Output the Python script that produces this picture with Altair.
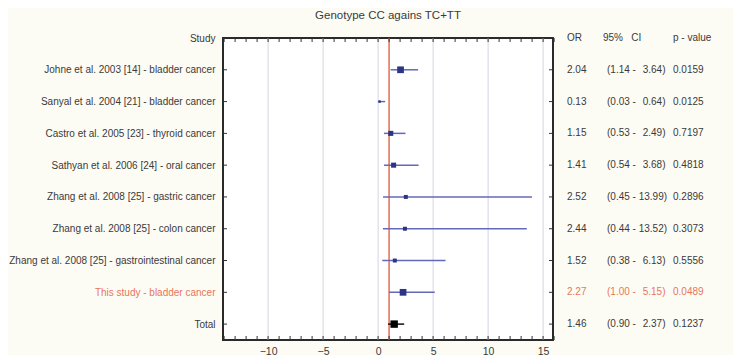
import altair as alt
import pandas as pd

studies = [
    "Johne et al. 2003 [14] - bladder cancer",
    "Sanyal et al. 2004 [21] - bladder cancer",
    "Castro et al. 2005 [23] - thyroid cancer",
    "Sathyan et al. 2006 [24] - oral cancer",
    "Zhang et al. 2008 [25] - gastric cancer",
    "Zhang et al. 2008 [25] - colon cancer",
    "Zhang et al. 2008 [25] - gastrointestinal cancer",
    "This study - bladder cancer",
    "Total",
]
odds = [2.04, 0.13, 1.15, 1.41, 2.52, 2.44, 1.52, 2.27, 1.46]
ci_low = [1.14, 0.03, 0.53, 0.54, 0.45, 0.44, 0.38, 1.00, 0.90]
ci_high = [3.64, 0.64, 2.49, 3.68, 13.99, 13.52, 6.13, 5.15, 2.37]
p_values = ["0.0159", "0.0125", "0.7197", "0.4818", "0.2896", "0.3073", "0.5556", "0.0489", "0.1237"]
weights = [5, 1, 3, 3, 2, 2, 2, 5, 6]
kinds = ["study"] * 7 + ["this", "total"]
headers = ["OR", "95%\u00a0\u00a0\u00a0CI", "p - value"]
x_ticks = list(range(-14, 17))
grid_values = [-10, -5, 0, 5, 10, 15]

FONT = "Liberation Sans"
BLUE_PT = "#2c3585"
BLUE_BAR = "#6468b8"
RED = "#e8765c"
TXT = "#3a3a3a"

W, H = 330, 302

rows = list(range(1, len(studies) + 1))
df = pd.DataFrame({
    "row": rows, "study": studies, "odds": odds, "lo": ci_low, "hi": ci_high,
    "p": p_values, "w": weights, "kind": kinds,
})
df["or_txt"] = [f"{v:.2f}" for v in odds]
df["ci_txt"] = [
    f"({a:.2f} - " + ("" if b >= 10 else "\u2009\u2009") + f"{b:.2f})"
    for a, b in zip(ci_low, ci_high)
]

labels = ["Study"] + studies
label_expr = "[" + ",".join("'" + s + "'" for s in labels) + "][datum.value]"

yscale = alt.Scale(domain=[0, 9.5], reverse=True, nice=False, zero=False)
xscale = alt.Scale(domain=[-14.1, 15.9], nice=False, zero=False)

y_axis = alt.Axis(values=list(range(0, 10)), labelExpr=label_expr,
                  ticks=False, domain=False, grid=False, title=None,
                  labelFont=FONT, labelFontSize=10, labelPadding=8, labelLimit=400,
                  labelColor={"condition": {"test": "datum.value == 8", "value": RED},
                              "value": TXT},
                  labelOverlap=False)
x_axis = alt.Axis(values=grid_values, grid=False, ticks=False, domain=False,
                  labelFont=FONT, labelFontSize=10.5, labelColor=TXT,
                  labelPadding=6, title=None, labelFlush=False, labelOverlap=False)


def Y(field):
    return alt.Y(field, scale=yscale, axis=y_axis)


def X(field):
    return alt.X(field, scale=xscale, axis=x_axis)


base = alt.Chart(df)
kind_dom = ["study", "this", "total"]

grid = alt.Chart(pd.DataFrame({"g": grid_values})).mark_rule(
    color="#d4d4e2", strokeWidth=1
).encode(x=X("g:Q"))

refline = alt.Chart(pd.DataFrame({"r": [1]})).mark_rule(
    color=RED, strokeWidth=1.6
).encode(x=X("r:Q"))

bars = base.mark_rule(strokeWidth=1.5).encode(
    x=X("lo:Q"), x2="hi:Q", y=Y("row:Q"),
    color=alt.Color("kind:N", scale=alt.Scale(domain=kind_dom,
                                             range=[BLUE_BAR, BLUE_BAR, "#111111"]),
                    legend=None),
)

points = base.mark_square(opacity=1).encode(
    x=X("odds:Q"), y=Y("row:Q"),
    size=alt.Size("w:Q", scale=alt.Scale(domain=[1, 6], range=[6, 55]), legend=None),
    fill=alt.Fill("kind:N", scale=alt.Scale(domain=kind_dom,
                                           range=[BLUE_PT, BLUE_PT, "#000000"]),
                  legend=None),
)

xt = pd.DataFrame({"t": x_ticks})
ticks_bottom = alt.Chart(xt).mark_rule(color="#333", strokeWidth=1).encode(
    x=X("t:Q"), y=alt.value(H), y2=alt.value(H - 4))
ticks_top = alt.Chart(xt).mark_rule(color="#333", strokeWidth=1).encode(
    x=X("t:Q"), y=alt.value(0), y2=alt.value(4))
yt = pd.DataFrame({"r": rows})
ticks_left = alt.Chart(yt).mark_rule(color="#333", strokeWidth=1).encode(
    y=Y("r:Q"), x=alt.value(0), x2=alt.value(4))
ticks_right = alt.Chart(yt).mark_rule(color="#333", strokeWidth=1).encode(
    y=Y("r:Q"), x=alt.value(W), x2=alt.value(W - 4))

text_color = alt.Color("kind:N", scale=alt.Scale(domain=kind_dom, range=[TXT, RED, TXT]),
                       legend=None)
col_x = {"or_txt": W + 14, "ci_txt": W + 54, "p": W + 120}
text_layers = []
for field, px in col_x.items():
    text_layers.append(
        base.mark_text(align="left", baseline="middle", font=FONT, fontSize=10).encode(
            x=alt.value(px), y=Y("row:Q"), text=f"{field}:N", color=text_color)
    )
hdr_df = pd.DataFrame({"row": [0], "h0": [headers[0]], "h1": [headers[1]], "h2": [headers[2]]})
for i, px in enumerate([W + 14, W + 50, W + 120]):
    text_layers.append(
        alt.Chart(hdr_df).mark_text(align="left", baseline="middle", font=FONT,
                                    fontSize=10, color=TXT).encode(
            x=alt.value(px), y=Y("row:Q"), text=f"h{i}:N")
    )

chart = alt.layer(
    grid, refline, bars, points, ticks_bottom, ticks_top, ticks_left, ticks_right,
    *text_layers
).resolve_scale(color="independent").properties(
    width=W, height=H,
    title=alt.TitleParams("Genotype CC agains TC+TT", font=FONT, fontSize=11.5,
                          fontWeight="normal", color=TXT, offset=12, anchor="middle"),
    autosize=alt.AutoSizeParams(type="none"),
    padding={"left": 215, "top": 30, "right": 180, "bottom": 15},
    background="#fdfcf4",
).configure_view(fill="white", stroke="#2a2a2a", strokeWidth=2)

chart.save("out.html", embed_options={"renderer": "svg", "actions": False})
